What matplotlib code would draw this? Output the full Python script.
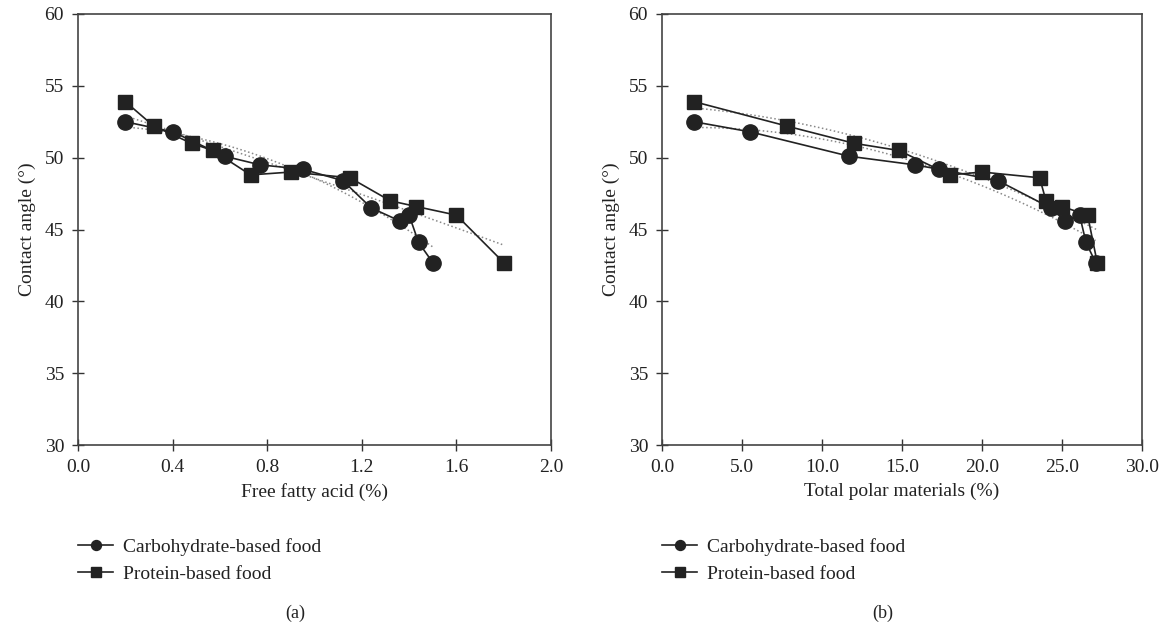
import numpy as np
import matplotlib
matplotlib.use("Agg")
import matplotlib.pyplot as plt

plt.rcParams['font.family'] = ['Liberation Serif', 'DejaVu Serif']

# Panel (a): free fatty acid (%)
ffa_carb = [0.20, 0.40, 0.62, 0.77, 0.95, 1.12, 1.24, 1.36, 1.40, 1.44, 1.50]
angle_carb = [52.5, 51.8, 50.1, 49.5, 49.2, 48.4, 46.5, 45.6, 46.0, 44.1, 42.7]
ffa_prot = [0.20, 0.32, 0.48, 0.57, 0.73, 0.90, 1.15, 1.32, 1.43, 1.60, 1.80]
angle_prot = [53.9, 52.2, 51.0, 50.5, 48.8, 49.0, 48.6, 47.0, 46.6, 46.0, 42.7]

# Panel (b): total polar materials (%)
tpm_carb = [2.0, 5.5, 11.7, 15.8, 17.3, 21.0, 24.3, 25.2, 26.1, 26.5, 27.1]
tpm_prot = [2.0, 7.8, 12.0, 14.8, 18.0, 20.0, 23.6, 24.0, 25.0, 26.6, 27.2]

series_names = ['Carbohydrate-based food', 'Protein-based food']

fig = plt.figure(figsize=(11.66, 6.27), dpi=100)
W, H = 1166, 627
ax_a = fig.add_axes([78 / W, (627 - 445) / H, 473 / W, 431 / H])
ax_b = fig.add_axes([662 / W, (627 - 445) / H, 480 / W, 431 / H])

dark = '#222222'
fs = 14


def draw_panel(ax, xc, yc, xp, yp, xlim, xticks, xlabel, caption):
    # dotted trend lines (2nd order fit)
    for x, y in [(xc, yc), (xp, yp)]:
        coef = np.polyfit(x, y, 2)
        xs = np.linspace(min(x), max(x), 100)
        ax.plot(xs, np.polyval(coef, xs), ':', color='#888888', lw=1.1, zorder=1)
    ax.plot(xc, yc, '-o', color=dark, lw=1.2, ms=11, label=series_names[0], zorder=3)
    ax.plot(xp, yp, '-s', color=dark, lw=1.2, ms=10, label=series_names[1], zorder=3)
    ax.set_xlim(*xlim)
    ax.set_ylim(30, 60)
    ax.set_xticks(xticks)
    ax.set_xticklabels(['{:.1f}'.format(t) for t in xticks])
    ax.set_yticks(range(30, 61, 5))
    ax.tick_params(direction='inout', length=8, width=1, labelsize=fs, color='#333333',
                   labelcolor=dark, pad=6)
    for s in ax.spines.values():
        s.set_color('#444444')
        s.set_linewidth(1.2)
    ax.set_xlabel(xlabel, fontsize=fs, labelpad=5, color=dark)
    ax.set_ylabel('Contact angle (°)', fontsize=fs, labelpad=6, color=dark)
    ax.legend(loc='upper left', bbox_to_anchor=(0.0, -0.216), frameon=False,
              fontsize=fs, handlelength=1.8, handletextpad=0.5, labelspacing=0.5,
              borderaxespad=0, borderpad=0, markerscale=0.65, labelcolor=dark)
    ax.text(0.46, -0.39, caption, transform=ax.transAxes, ha='center', va='center',
            fontsize=fs - 1, color=dark)


draw_panel(ax_a, ffa_carb, angle_carb, ffa_prot, angle_prot, (0, 2.0),
           [0.0, 0.4, 0.8, 1.2, 1.6, 2.0], 'Free fatty acid (%)', '(a)')
draw_panel(ax_b, tpm_carb, angle_carb, tpm_prot, angle_prot, (0, 30),
           [0, 5, 10, 15, 20, 25, 30], 'Total polar materials (%)', '(b)')

fig.savefig('out.png', dpi=100)
